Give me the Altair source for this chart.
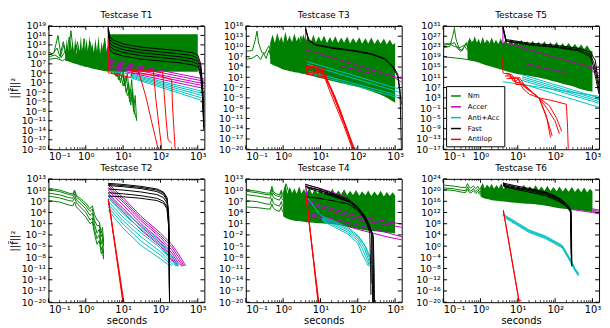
import altair as alt
import pandas as pd

GROUPS = ["Nm", "Accer", "Anti+Acc", "Fast", "Antilop"]
COLORS = ["#008000", "#bf00bf", "#00bfbf", "#000000", "#ff0000"]

X_MAJOR_EXP = [-1, 0, 1, 2, 3]
X_MAJOR = [0.1, 1, 10, 100, 1000]
X_MINOR_MULT = [2, 3, 4, 5, 6, 7, 8, 9]
X_DOMAIN = [0.1, 1500]

PW, PH = 158, 125

# shared x grids of the dense "Nm" regions
GRID_A = [0.45, 0.52, 0.6, 0.7, 0.8, 0.9, 1, 1.15, 1.3, 1.5, 1.7, 2, 2.3, 2.6, 3, 3.5, 4, 4.7, 5.5, 6.5,
          7.5, 9, 10.5, 12.5, 15, 18, 21, 25, 30, 36, 43, 52, 62, 75, 90, 110, 130, 160, 190, 230,
          280, 340, 410, 500, 600, 720, 860, 1000]
GRID_B = [1, 1.15, 1.3, 1.5, 1.75, 2, 2.3, 2.7, 3.1, 3.6, 4.2, 5, 6, 7, 8.5, 10, 12, 14.5, 17.5, 21,
          25, 30, 36, 43, 52, 62, 75, 90, 110, 130, 160, 190, 230, 280, 340, 410, 500, 600, 720, 860, 1000]

# ---------------- Testcase T1 ----------------
T1_YEXP = [-20, -17, -14, -11, -8, -5, -2, 1, 4, 7, 10, 13, 16, 19]
T1_NM = [
    ([0.1, 0.13, 0.17, 0.2, 0.25, 0.3, 0.36, 0.45, 0.55, 0.7, 0.85, 1.0, 1.3, 1.6, 2, 2.5, 3, 3.6, 4.2, 5, 6, 7.5, 9, 11, 13, 15, 17, 19, 21, 23],
     [10.7, 10.2, 12, 9.5, 14, 9, 15.5, 8, 13, 7.5, 12, 7, 14, 6.5, 11, 6, 13, 5.5, 10, 4, 9, 2, 7, 0, 4, -4, 2, -8, -3, -11]),
    ([0.1, 0.14, 0.18, 0.22, 0.28, 0.33, 0.4, 0.5, 0.6, 0.75, 0.9, 1.1, 1.4, 1.8, 2.2, 2.8, 3.4, 4, 4.8, 5.8, 7, 8.5, 10, 12, 14, 16, 18, 20],
     [9.8, 10.5, 16, 9, 11, 8.5, 17.5, 7.5, 10, 7, 15, 6.5, 9, 6, 12, 5.5, 8, 5, 11, 3.5, 6, 1, 5, -2, 1, -6, -1, -9]),
    ([0.1, 0.15, 0.2, 0.26, 0.32, 0.4, 0.48, 0.6, 0.72, 0.9, 1.1, 1.35, 1.7, 2.1, 2.6, 3.2, 4, 5, 6.5, 8, 10, 12, 15, 18],
     [9.2, 9.8, 8.8, 13, 8.2, 11, 7.6, 14, 7.2, 10, 6.8, 13, 6.2, 9, 5.8, 15, 5, 7, 3, 6, 0, 3, -5, -2]),
    ([0.1, 0.16, 0.24, 0.35, 0.5, 0.65, 0.8, 1, 1.25, 1.5, 2, 2.4, 3, 3.8, 4.5, 6, 8, 10, 13, 16, 19, 22],
     [8.4, 8.8, 8, 9.5, 7.2, 11, 6.8, 8.5, 6, 10, 5.5, 7.5, 5, 9, 4.5, 5, 2, 3, -3, -1, -7, -10]),
]
T1_BAND_X = [4, 1000]
T1_BAND_LO = [4.6, 4.5]
T1_BAND_HI = [16.4, 16.4]
T1_BAND2_X = [0.28, 0.31, 0.34, 0.37, 0.4, 0.44, 0.48, 0.52, 0.57, 0.62, 0.68, 0.74, 0.8, 0.88, 0.96, 1.05,
              1.15, 1.25, 1.37, 1.5, 1.65, 1.8, 2, 2.2, 2.4, 2.65, 2.9, 3.2, 3.5, 3.8, 4]
T1_BAND2_LO = [8, 7.9, 7.8, 7.6, 7.5, 7.3, 7.2, 7, 6.9, 6.8, 6.6, 6.5, 6.4, 6.2, 6.1, 6, 5.9, 5.8, 5.6, 5.5,
               5.4, 5.3, 5.2, 5.1, 5, 4.9, 4.8, 4.7, 4.7, 4.6, 4.6]
T1_BAND2_HI = [9, 15, 10, 16, 11, 14, 10.5, 15.5, 10, 13, 11, 16, 10, 14.5, 11, 15, 10.5, 16, 11, 13.5,
               10.5, 15, 11, 16, 10, 14, 11, 15.5, 10.5, 13, 11]
T1_ACCER = [
    ([4, 4, 4.2, 1500], [19, 8.5, 8.2, 2.2]),
    ([4.2, 1500], [7.5, 1.5]),
    ([4.2, 1500], [6.8, 0.7]),
    ([4.2, 1500], [6.2, 0.0]),
    ([4.2, 1500], [5.6, -0.8]),
]
T1_ANTI = [
    ([4, 16, 1500], [4.7, 3.8, -1.8]),
    ([16, 1500], [3.5, -2.5]),
    ([16, 1500], [3.2, -3.2]),
    ([16, 1500], [2.9, -4.0]),
    ([16, 1500], [2.6, -4.8]),
]
T1_FAST = [
    ([4, 4.4, 5.5, 10, 30, 100, 300, 700, 1000, 1200, 1350, 1450], [18.5, 15.5, 14.5, 13.3, 12.3, 11.7, 11.2, 10.6, 9.8, 7, 0, -13]),
    ([4, 4.4, 5.5, 10, 30, 100, 300, 700, 1000, 1200, 1350, 1470], [18.2, 14.6, 13.6, 12.4, 11.4, 10.8, 10.2, 9.6, 8.8, 6, -1, -13.5]),
    ([4, 4.4, 5.5, 10, 30, 100, 300, 700, 1000, 1200, 1350, 1430], [18.0, 13.6, 12.6, 11.5, 10.5, 9.9, 9.3, 8.6, 7.9, 5, -2, -12.5]),
    ([4, 4.4, 5.5, 10, 30, 100, 300, 700, 1000, 1200, 1350, 1480], [17.8, 12.6, 11.6, 10.6, 9.6, 9.0, 8.4, 7.7, 7.0, 4, -3, -13]),
    ([4, 4.4, 5.5, 10, 30, 100, 300, 700, 1000, 1200, 1350, 1460], [17.6, 11.4, 10.4, 9.5, 8.5, 7.9, 7.4, 6.7, 6.1, 3, -4, -14]),
]
T1_ANTILOP = [
    ([4, 4, 16, 18, 26, 40, 60, 89], [15, 4.2, 2.7, 4.7, 4.5, -3, -12, -20.5]),
    ([16, 40, 65, 75, 90, 110], [5.3, 5, 4.8, -4, -12, -20.5]),
    ([16, 60, 115, 125, 145, 160, 200], [4.9, 4.6, 4.3, -2, -12, -17, -18]),
    ([16, 100, 200, 210, 230, 250], [4.2, 3.2, 2.0, -6, -14, -20.5]),
]

# ---------------- Testcase T3 ----------------
T3_YEXP = [-20, -17, -14, -11, -8, -5, -2, 1, 4, 7, 10, 13, 16]
T3_NM = [
    ([0.1, 0.15, 0.18, 0.2, 0.22, 0.27, 0.33, 0.38, 0.42, 0.47, 0.55, 0.7, 0.9, 1.2, 1.6, 2.2, 3, 4],
     [8.6, 8.8, 12, 14.5, 11, 8.2, 8, 9.5, 10.2, 7.5, 9, 6, 11, 5, 12, 4.5, 13, 4]),
    ([0.1, 0.15, 0.2, 0.25, 0.3, 0.35, 0.42, 0.5, 0.6, 0.8, 1, 1.3, 1.7, 2.3, 3, 4],
     [6.2, 6.6, 7.5, 6.2, 8, 6.5, 9, 5.5, 8, 5, 10, 4, 9, 3.5, 11, 3]),
]
T3_BAND_LO = [5, 4.7, 4.4, 4.1, 3.8, 3.5, 3.3, 3.1, 3, 2.8, 2.7, 2.5, 2.4, 2.3, 2.1, 2, 1.9, 1.7, 1.5, 1.3,
              1.1, 0.9, 0.7, 0.5, 0.3, 0.1, -0.1, -0.3, -0.5, -0.7, -0.9, -1.1, -1.3, -1.5, -1.7, -1.9, -2.2, -2.5, -2.8, -3.1,
              -3.4, -3.7, -4.1, -4.5, -5, -5.5, -6, -6.4]
T3_BAND_HI = [11, 13.5, 11, 14, 11.5, 13, 11, 14.3, 11.5, 13.2, 11, 13.8, 11.5, 12.8, 11.2, 13.6, 11.5, 13, 11.3, 13.4,
              11.2, 12.9, 11.4, 13.2, 11, 12.8, 11.2, 13, 11, 12.6, 11.1, 12.9, 10.9, 12.5, 11, 12.7, 10.8, 12.4, 10.9, 12.6,
              10.7, 12.2, 10.8, 12.3, 10.6, 12, 10.5, 11]
T3_ACCER = [
    ([4, 4, 4.5, 20, 100, 500, 1100, 1500], [16, 8.3, 9, 6.8, 4.5, 2.1, 1.0, 0.6]),
    ([37, 290], [4.2, 1.9]),
    ([700, 1000, 1500], [1.8, 0.8, -0.4]),
]
T3_ANTI = [
    ([4.4, 1180, 1500], [5.6, -2.3, -2.8]),
    ([4.4, 1180, 1500], [4.8, -3.2, -3.6]),
    ([4.8, 525, 1180, 1500], [2.8, -3.2, -4.3, -4.6]),
    ([4.8, 1180, 1500], [2.3, -4.9, -5.3]),
]
T3_FAST = [
    ([4, 4.8, 7.2, 20, 83, 230, 525, 880, 1180, 1350, 1480], [15.5, 12, 10.6, 9.7, 8.8, 7.9, 6.5, 4.2, 1.9, -3, -20.5]),
    ([4, 4.8, 7.2, 20, 83, 230, 525, 880, 1180, 1350, 1500], [15, 11.7, 10.4, 9.5, 8.6, 7.7, 6.3, 3.9, 1.2, -3.5, -7]),
]
T3_ANTILOP = [
    ([4, 4, 4.3, 7, 7.5, 11, 12, 14, 20, 30, 50, 82], [12, 2.3, 4.2, 4.2, 3, 3, 1.5, 0.8, -3, -8, -14, -20.5]),
    ([4.3, 6, 7, 9, 10, 13, 15, 22, 35, 55, 78], [3.5, 3.5, 2.5, 2.5, 3.4, 3.4, 0.5, -3.5, -9, -15, -20.5]),
    ([4.5, 8, 9, 12, 14, 18, 28, 45, 70], [2.5, 2.5, 1.2, 1.2, 0.3, -2, -7, -13, -19]),
    ([5, 9, 10, 13, 16, 25, 40, 60, 85], [4, 4, 2, 2, -0.5, -5, -11, -16, -20.5]),
    ([4.2, 6.5, 8, 11, 13, 17, 26, 42, 75], [1.8, 1.8, 3.8, 3.8, 1, -2.5, -7.5, -13, -20.5]),
]

# ---------------- Testcase T5 ----------------
T5_YEXP = [-17, -13, -9, -5, -1, 3, 7, 11, 15, 19, 23, 27, 31]
T5_NM = [
    ([0.1, 0.15, 0.18, 0.2, 0.22, 0.27, 0.33, 0.38, 0.42, 0.5, 0.6, 0.75, 0.9, 1.2, 1.6, 2.2, 3],
     [22.5, 23, 27, 30, 26, 22, 21.5, 23.5, 24.5, 20.5, 25, 19.5, 24, 19, 25, 18.5, 24]),
    ([0.1, 0.15, 0.2, 0.25, 0.3, 0.35, 0.42, 0.5, 0.6, 0.8, 1, 1.3, 1.7, 2.3, 3],
     [23.5, 23.8, 24.5, 22, 21, 22.5, 24, 21, 23, 20, 24, 19, 23, 18.5, 22]),
    ([0.1, 0.14, 0.2, 0.28, 0.36, 0.45, 0.55, 0.7], [23.9, 24.2, 23, 22.5, 23.5, 21.5, 22.5, 20.5]),
    ([0.1, 0.3, 0.6, 1, 2, 3.5], [19, 18.3, 17.6, 17.5, 17.2, 17]),
]
T5_BAND_LO = [17.8, 17.6, 17.4, 17.2, 17, 16.8, 16.5, 16.2, 15.9, 15.6, 15.4, 15.1, 14.8, 14.6, 14.3, 14, 13.8, 13.5, 13.2, 12.9,
              12.7, 12.4, 12.2, 12, 11.8, 11.7, 11.5, 11.3, 11.1, 10.9, 10.6, 10.4, 10.1, 9.8, 9.5, 9.2, 8.9, 8.5, 8.2, 7.9,
              7.6, 7.2, 6.7, 6.4, 6.1, 5.8, 5.6, 5.4]
T5_BAND_HI = [24.5, 26.5, 24, 27, 24.5, 26, 24, 26.8, 24.3, 25.8, 24, 26.5, 24.2, 25.6, 24, 26.2, 24.1, 25.5, 23.8, 25.9,
              23.9, 25.3, 23.7, 25.6, 23.6, 25, 23.5, 25.2, 23.4, 24.8, 23.3, 25, 23.1, 24.6, 23, 24.7, 22.8, 24.3, 22.7, 24.4,
              22.5, 24, 22.3, 23.8, 22, 23.5, 21.5, 21]
T5_ACCER = [
    ([4, 4, 4.4, 20, 100, 426, 1070, 1500], [31, 23.9, 24.5, 21.8, 18.8, 16.3, 14.6, 14]),
    ([14.6, 40, 100, 210], [16.5, 15, 13.8, 12.5]),
    ([800, 1100, 1500], [15, 14, 12.5]),
    ([900, 1200, 1500], [14, 12.5, 11.5]),
]
T5_ANTI = [
    ([4, 1500], [9.3, 3.6]),
    ([13, 1500], [12, 3]),
    ([13, 1500], [11.2, 2.3]),
    ([13, 1500], [10.5, 1.6]),
    ([13, 1500], [9.8, 0.9]),
    ([13, 1500], [8.5, -0.7]),
]
T5_FAST = [
    ([4, 4.8, 20, 100, 426, 880, 1180, 1350, 1500], [31, 25.7, 24.3, 23.5, 22.3, 20.8, 17.7, 12, 7.9]),
    ([4, 4.8, 20, 100, 426, 880, 1100, 1300, 1500], [30.5, 25.3, 23.9, 23, 21.7, 19.8, 16.5, 11, 6]),
    ([4, 4.8, 20, 100, 426, 880, 1050, 1250, 1500], [30, 25, 23.6, 22.7, 21.3, 19, 15.5, 10, 4.5]),
]
T5_ANTILOP = [
    ([4, 4, 4.3, 6, 7, 10, 12, 20, 37, 60, 75], [18.9, 12.8, 12.5, 12.5, 10.5, 10.5, 8.5, 6, 3, -5, -12.4]),
    ([4.5, 6.5, 7.5, 9, 11, 15, 25, 37, 55, 83], [11.5, 11.5, 9.5, 9.5, 11, 8, 5, 3, -3, -11.8]),
    ([5, 8, 9, 13, 16, 22, 37, 60, 100, 130], [10.5, 10.5, 8.2, 8.2, 7, 5.5, 3, -1, -6, -11]),
    ([5, 7, 9, 11, 14, 20, 37, 70, 110, 150], [12, 12, 9, 9, 6.5, 4.5, 3, 0, -5, -10]),
    ([6, 10, 12, 18, 30, 37, 80, 200, 215, 225], [11, 11, 9, 7, 4, 3, 2, 0.5, -8, -17.5]),
]

# ---------------- Testcase T2 ----------------
T2_YEXP = [-20, -17, -14, -11, -8, -5, -2, 1, 4, 7, 10, 13]
T2_NM_X = [0.1, 0.2, 0.35, 0.45, 0.5, 0.56, 0.7, 1, 1.3, 1.5, 1.7, 2, 2.3, 2.6, 2.8, 3]
T2_NM = [
    (T2_NM_X, [10.5, 10, 9.2, 9, 10, 8.6, 7.8, 6.5, 5, 5.8, 3.5, 2, 1.5, -1.5, 0, -4]),
    (T2_NM_X, [10.1, 9.6, 8.8, 8.6, 9.6, 8.2, 7.3, 5.8, 4.3, 4.9, 2, 0.5, 0.5, -2.5, -1.5, -5]),
    (T2_NM_X, [9.2, 8.7, 8, 7.8, 8.9, 7.4, 6.5, 5, 3.2, 3.8, 1, -1.5, -0.5, -4.5, -3, -7]),
    (T2_NM_X, [8.4, 7.9, 7.2, 7, 8, 6.6, 5.6, 4, 2, 2.5, -0.5, -3, -2, -6, -5, -8]),
    (T2_NM_X, [7.2, 6.8, 6, 5.8, 6.8, 5.5, 4.5, 2.8, 1, 1.5, -1.5, -4.5, -3.5, -7, -6, -8.5]),
]
T2_ACCER = [
    ([4, 6, 10, 30, 100, 200, 300, 400, 470], [11.8, 10, 8, 3, -1.5, -4.5, -7, -9, -10.3]),
    ([4, 6, 10, 30, 100, 200, 300, 400, 430], [11.3, 9.4, 7.4, 2.4, -2.1, -5.2, -7.8, -9.8, -10.3]),
    ([4, 6, 10, 30, 100, 200, 300, 400], [10.7, 8.8, 6.8, 1.8, -2.7, -6, -8.7, -10.3]),
    ([4, 6, 10, 30, 100, 200, 300, 380], [10, 8.1, 6, 1, -3.4, -6.8, -9.5, -10.4]),
    ([4, 6, 10, 30, 100, 200, 300], [9.2, 7.2, 5.1, 0.2, -4.2, -7.7, -10.3]),
    ([4, 6, 10, 30, 100, 200, 290], [8.4, 6.4, 4.2, -0.7, -5, -8.6, -10.4]),
]
T2_ANTI = [
    ([4, 10, 30, 100, 230, 300], [8.8, 4.5, 0.5, -3.7, -8.3, -10]),
    ([4, 10, 30, 100, 230, 280], [7.9, 3.6, -0.4, -4.6, -9, -10.3]),
    ([4, 10, 30, 100, 230, 260], [7, 2.7, -1.4, -5.5, -9.6, -10.4]),
    ([4, 10, 30, 100, 220], [6.2, 1.8, -2.5, -6.5, -10]),
    ([4, 10, 30, 100, 200], [5.4, 0.9, -3.6, -7.4, -10.2]),
    ([4, 10, 30, 100, 180], [4.6, -0.2, -4.8, -8.4, -10.3]),
]
T2_FAST_X = [4, 10, 30, 80, 120, 150, 165, 172, 175]
T2_FAST = [
    (T2_FAST_X, [11.8, 11.5, 11, 10.3, 9.5, 8, 4, -5, -19]),
    (T2_FAST_X, [11.5, 11.2, 10.7, 10, 9.2, 7.6, 3.5, -6, -18]),
    (T2_FAST_X, [11.2, 10.9, 10.4, 9.6, 8.8, 7.2, 3, -7, -18.5]),
    (T2_FAST_X, [10.3, 10, 9.5, 8.8, 8, 6.5, 2, -8, -19]),
    (T2_FAST_X, [9.3, 9, 8.5, 7.8, 7, 5.5, 1, -9, -20]),
    (T2_FAST_X, [8.4, 8.2, 7.8, 7.2, 6.5, 5, 0.5, -10, -20.5]),
]
T2_ANTILOP = [
    ([4, 10.7], [7.6, -20.5]),
    ([4, 10.3], [7.4, -20.5]),
    ([4.1, 10], [7.2, -20.5]),
]

# ---------------- Testcase T4 ----------------
T4_YEXP = [-20, -17, -14, -11, -8, -5, -2, 1, 4, 7, 10, 13]
T4_NM_X = [0.1, 0.2, 0.35, 0.45, 0.5, 0.55, 0.65, 0.8, 0.9, 0.95, 1.05, 1.2, 1.5]
T4_NM = [
    (T4_NM_X, [10.1, 9.7, 9.2, 9.2, 11, 9.5, 9, 8.8, 10, 9, 8.6, 11.7, 8.5]),
    (T4_NM_X, [9.7, 9.3, 8.8, 8.7, 10.3, 9, 8.5, 8.3, 9.5, 8.4, 8, 9, 7.8]),
    (T4_NM_X, [8.8, 8.4, 8, 7.8, 9.3, 8, 7.6, 7.3, 8.5, 7.4, 7, 8, 6.8]),
    (T4_NM_X, [7.2, 6.9, 6.3, 6.2, 7.8, 6.5, 6, 5.7, 7, 5.8, 5.5, 6.5, 5]),
    (T4_NM_X, [5.5, 5.3, 5, 4.9, 6.3, 5.1, 4.6, 4.3, 5.6, 4.3, 4, 5, 3.5]),
]
T4_BAND_LO = [3, 2.6, 2.3, 2.1, 1.9, 1.8, 1.75, 1.7, 1.6, 1.5, 1.4, 1.35, 1.3, 1.2, 1.15, 1.1, 1.05, 1, 0.95, 0.9,
              0.8, 0.65, 0.5, 0.35, 0.15, 0, -0.15, -0.3, -0.45, -0.6, -0.75, -0.85, -0.95, -1.05, -1.1, -1.2, -1.3, -1.4, -1.45, -1.5,
              -1.6]
T4_BAND_HI = [9.5, 11.7, 9, 10.8, 9.2, 10.5, 9, 11, 9.1, 10.3, 9, 10.7, 8.9, 10.2, 9, 10.6, 8.8, 10, 8.9, 10.4,
              8.7, 9.9, 8.8, 10.2, 8.6, 9.8, 8.7, 10, 8.5, 9.7, 8.6, 9.9, 8.4, 9.6, 8.5, 9.8, 8.3, 9.5, 8.4, 9.4,
              8.5]
T4_ACCER = [
    ([4, 4.4, 10, 100, 525, 1500], [11.7, 7.2, 6, 3, 1.7, 0.9]),
    ([4, 4.6, 10, 100, 525, 1500], [11.2, 6.5, 5.3, 2.1, 0.8, 0.05]),
    ([4.8, 10, 55, 525, 1500], [3.8, 3, 1.3, -1.2, -2.5]),
    ([4.8, 10, 100, 600, 1500], [3.3, 2.5, -0.5, -2.5, -3.3]),
    ([4, 10, 30, 50], [11.5, 10.4, 8.9, 8.1]),
]
T4_ANTI = [
    ([4.5, 9, 12, 20, 55, 102, 155, 210, 235], [8, 3.8, 2.8, 2, 0, -2.2, -4.7, -7.7, -9.5]),
    ([11, 20, 55, 102, 155, 200, 225], [2.6, 1.7, -0.4, -2.5, -5, -8, -9.8]),
    ([11, 20, 55, 102, 150, 190, 215], [2.3, 1.3, -0.8, -3, -5.6, -8.4, -10]),
    ([11, 20, 55, 100, 140, 180, 205], [2, 0.9, -1.3, -3.5, -6.2, -8.8, -10.2]),
    ([12, 20, 55, 100, 130, 170, 195], [1.6, 0.5, -1.8, -4.2, -7, -9.3, -10.4]),
]
T4_FAST = [
    ([4, 9, 20, 55, 100, 155, 190, 230, 255, 262, 265], [11.5, 10.5, 9.2, 7.6, 5.5, 3, 1.3, -0.8, -2, -10, -20.5]),
    ([4, 9, 20, 55, 100, 155, 190, 230, 260, 275, 280], [11, 10.1, 8.9, 7.3, 5.3, 2.8, 1.1, -1, -2.5, -12, -20.5]),
    ([4.2, 9, 20, 55, 100, 150, 180, 210, 220, 225], [10.8, 10, 8.7, 7, 5, 2.5, 0.7, -1.5, -10, -18]),
    ([4, 9, 20, 55, 100, 150, 190, 220, 240, 245, 250], [8.2, 7.8, 7.2, 6.3, 4.6, 2.3, 0.5, -1, -2, -12, -20.5]),
    ([4.5, 9, 20, 60, 110, 160, 200, 235, 240], [10.5, 9.6, 8.4, 6.8, 4.8, 2.4, 0.5, -1.5, -15]),
]
T4_ANTILOP = [
    ([4.1, 8.9], [8.4, -20.5]),
    ([4.1, 9.2], [8.1, -20.5]),
    ([4.2, 8.7], [8.6, -20.5]),
]

# ---------------- Testcase T6 ----------------
T6_YEXP = [-20, -16, -12, -8, -4, 0, 4, 8, 12, 16, 20, 24]
T6_NM_X = [0.1, 0.2, 0.3, 0.4, 0.45, 0.5, 0.55, 0.65, 0.75, 0.85, 0.95, 1.1, 1.3]
T6_NM = [
    (T6_NM_X, [21.8, 21.4, 21, 20.9, 22.3, 21, 20.7, 21.5, 20.5, 21.3, 20.2, 21.2, 20]),
    (T6_NM_X, [20.8, 20.4, 20, 19.8, 21.2, 20, 19.6, 20.5, 19.5, 20.3, 19.2, 20.2, 19]),
    (T6_NM_X, [20.2, 19.8, 19.3, 19.1, 20.4, 19.2, 18.9, 19.8, 18.8, 19.5, 18.5, 19.5, 18.5]),
]
T6_BAND_LO = [17.8, 17.3, 17, 16.8, 16.6, 16.4, 16.3, 16.2, 16.1, 16, 15.9, 15.8, 15.7, 15.6, 15.5, 15.4, 15.3, 15.2, 15.15, 15.1,
              15, 14.9, 14.8, 14.7, 14.5, 14.3, 14.1, 13.9, 13.7, 13.5, 13.4, 13.3, 13.2, 13.1, 13, 12.9, 12.8, 12.7, 12.5, 12.4,
              12.3]
T6_BAND_HI = [21, 22.5, 20.6, 22, 20.8, 22.3, 20.5, 21.8, 20.6, 22.4, 20.4, 21.7, 20.5, 22, 20.3, 21.6, 20.2, 21.9, 20.1, 21.4,
              20, 21.7, 19.9, 21.3, 19.8, 21.5, 19.7, 21.1, 19.6, 21.3, 19.5, 20.9, 19.4, 21.1, 19.3, 20.7, 19.2, 20.9, 19.1, 20.5,
              19.5]
T6_ACCER_X = [4, 6, 10, 30, 100, 300, 1000, 1500]
T6_ACCER = [
    (T6_ACCER_X, [22.8, 21, 19.5, 17.5, 15.5, 14.2, 13.3, 12.9]),
    (T6_ACCER_X, [22.4, 20.5, 19, 17, 15, 13.8, 12.9, 12.4]),
    (T6_ACCER_X, [22, 20, 18.5, 16.5, 14.6, 13.4, 12.4, 11.9]),
    (T6_ACCER_X, [21.6, 19.6, 18.1, 16.1, 14.2, 13, 12, 11.5]),
]
T6_ANTI_X = [4, 4.8, 9, 20, 55, 155, 230, 347, 426]
T6_ANTI = [
    (T6_ANTI_X, [11.8, 10.8, 8.6, 5.8, 3.6, 0.3, -3.6, -8.1, -9.8]),
    (T6_ANTI_X, [11.5, 10.5, 8.3, 5.5, 3.3, 0, -3.9, -8.4, -10.1]),
    (T6_ANTI_X, [11.2, 10.2, 8, 5.2, 3, -0.3, -4.2, -8.7, -10.4]),
    (T6_ANTI_X, [11, 9.9, 7.7, 4.9, 2.7, -0.6, -4.5, -9, -10.6]),
]
T6_FAST = [
    ([4, 9, 20, 55, 125, 188, 230, 265, 275, 280], [22.5, 21.5, 20.6, 19.3, 17.2, 15.5, 14.2, 12.8, 3, -7.2]),
    ([4, 9, 20, 55, 125, 188, 230, 265, 272, 278], [22.1, 21.1, 20.2, 18.9, 16.8, 15.1, 13.9, 12.5, 2, -6]),
    ([4, 9, 20, 55, 125, 188, 230, 262, 270, 276], [21.7, 20.7, 19.8, 18.5, 16.4, 14.7, 13.5, 12.2, 0, -7]),
    ([4.2, 9, 20, 55, 125, 188, 230, 260, 268, 272], [21.3, 20.2, 19.3, 18, 16, 14.4, 13.2, 12, 1, -5]),
    ([4.5, 10, 30, 80, 150, 200, 240, 262, 270], [21, 20.5, 20, 18.5, 16.5, 14.5, 13, 12.2, -3]),
]
T6_ANTILOP = [
    ([4.1, 10.8, 12.5], [12.9, -19.4, -19.5]),
    ([4.1, 11], [12.5, -20.5]),
]

SUP = str.maketrans("0123456789-", "⁰¹²³⁴⁵⁶⁷⁸⁹⁻")


def label_expr(exps):
    expr = "''"
    for e in reversed(exps):
        expr = "round(log(datum.value)/LN10)==%d ? '10%s' : (%s)" % (e, str(e).translate(SUP), expr)
    return expr


COLOR_SCALE = alt.Scale(domain=GROUPS, range=COLORS)
LEGEND = alt.Legend(title=None, orient="bottom-left", offset=3, symbolType="stroke",
                    symbolSize=100, symbolStrokeWidth=1.5, labelFontSize=7,
                    labelFont="DejaVu Sans", labelColor="black", fillColor="white",
                    strokeColor="black", padding=4, rowPadding=2, labelOffset=6,
                    cornerRadius=0)


def lines_df(lines, grp):
    rows = []
    for i, (xs, es) in enumerate(lines):
        for k, (x, e) in enumerate(zip(xs, es)):
            rows.append({"x": x, "y": 10.0 ** e, "grp": grp, "sid": "%s-%d" % (grp, i), "o": k})
    return pd.DataFrame(rows)


def make_panel(title, ylo, yhi, yexps, bands, lines, order, ytitle, xtitle, legend):
    xsc = alt.Scale(type="log", domain=X_DOMAIN, nice=False)
    ysc = alt.Scale(type="log", domain=[10.0 ** ylo, 10.0 ** yhi], nice=False)
    xax = alt.Axis(values=X_MAJOR, labelExpr=label_expr(X_MAJOR_EXP), title=xtitle,
                   labelOverlap=False, labelPadding=2, titlePadding=2)
    yax = alt.Axis(values=[10.0 ** e for e in yexps], labelExpr=label_expr(yexps),
                   title=ytitle, labelOverlap=False, labelPadding=3, titlePadding=2,
                   labelFontSize=9.5)
    X = lambda f: alt.X(f, scale=xsc, axis=xax)
    Y = lambda f: alt.Y(f, scale=ysc, axis=yax)
    leg = LEGEND if legend else None
    layers = []
    for g in order:
        if g == "band":
            for bx, blo, bhi in bands:
                bdf = pd.DataFrame({"x": bx, "lo": [10.0 ** v for v in blo], "hi": [10.0 ** v for v in bhi]})
                layers.append(alt.Chart(bdf).mark_area(color="#008000", clip=True, opacity=1).encode(
                    x=X("x:Q"), y=Y("lo:Q"), y2="hi:Q"))
        else:
            df = lines_df(lines[g], g)
            layers.append(alt.Chart(df).mark_line(strokeWidth=1, clip=True).encode(
                x=X("x:Q"), y=Y("y:Q"),
                color=alt.Color("grp:N", scale=COLOR_SCALE, legend=leg),
                detail="sid:N", order="o:Q"))
    minor = [b * m for b in X_MAJOR[:-1] for m in X_MINOR_MULT]
    xmaj = pd.DataFrame({"x": X_MAJOR})
    xmin = pd.DataFrame({"x": minor})
    ytk = pd.DataFrame({"y": [10.0 ** e for e in yexps]})
    layers += [
        alt.Chart(xmaj).mark_rule(color="black", strokeWidth=1).encode(x=X("x:Q"), y=alt.value(PH), y2=alt.value(PH - 4)),
        alt.Chart(xmaj).mark_rule(color="black", strokeWidth=1).encode(x=X("x:Q"), y=alt.value(0), y2=alt.value(4)),
        alt.Chart(xmin).mark_rule(color="black", strokeWidth=0.8).encode(x=X("x:Q"), y=alt.value(PH), y2=alt.value(PH - 2)),
        alt.Chart(xmin).mark_rule(color="black", strokeWidth=0.8).encode(x=X("x:Q"), y=alt.value(0), y2=alt.value(2)),
        alt.Chart(ytk).mark_rule(color="black", strokeWidth=1).encode(y=Y("y:Q"), x=alt.value(0), x2=alt.value(4)),
        alt.Chart(ytk).mark_rule(color="black", strokeWidth=1).encode(y=Y("y:Q"), x=alt.value(PW), x2=alt.value(PW - 4)),
    ]
    return alt.layer(*layers).properties(
        width=PW, height=PH,
        title=alt.TitleParams(title, fontSize=9, fontWeight="normal", font="DejaVu Sans",
                              offset=1, anchor="middle", color="black"))


STD = ["band", "Nm", "Accer", "Anti+Acc", "Fast", "Antilop"]
YT = "||f̃||²"

p1 = make_panel("Testcase T1", -20, 19, T1_YEXP,
                [(T1_BAND_X, T1_BAND_LO, T1_BAND_HI), (T1_BAND2_X, T1_BAND2_LO, T1_BAND2_HI)],
                {"Nm": T1_NM, "Accer": T1_ACCER, "Anti+Acc": T1_ANTI, "Fast": T1_FAST, "Antilop": T1_ANTILOP},
                STD, YT, None, False)
p3 = make_panel("Testcase T3", -20, 16, T3_YEXP, [(GRID_A, T3_BAND_LO, T3_BAND_HI)],
                {"Nm": T3_NM, "Accer": T3_ACCER, "Anti+Acc": T3_ANTI, "Fast": T3_FAST, "Antilop": T3_ANTILOP},
                STD, None, None, False)
p5 = make_panel("Testcase T5", -17, 31, T5_YEXP, [(GRID_A, T5_BAND_LO, T5_BAND_HI)],
                {"Nm": T5_NM, "Accer": T5_ACCER, "Anti+Acc": T5_ANTI, "Fast": T5_FAST, "Antilop": T5_ANTILOP},
                STD, None, None, True)
p2 = make_panel("Testcase T2", -20, 13, T2_YEXP, [],
                {"Nm": T2_NM, "Accer": T2_ACCER, "Anti+Acc": T2_ANTI, "Fast": T2_FAST, "Antilop": T2_ANTILOP},
                ["Nm", "Accer", "Anti+Acc", "Fast", "Antilop"], YT, "seconds", False)
p4 = make_panel("Testcase T4", -20, 13, T4_YEXP, [(GRID_B, T4_BAND_LO, T4_BAND_HI)],
                {"Nm": T4_NM, "Accer": T4_ACCER, "Anti+Acc": T4_ANTI, "Fast": T4_FAST, "Antilop": T4_ANTILOP},
                STD, None, "seconds", False)
p6 = make_panel("Testcase T6", -20, 24, T6_YEXP, [(GRID_B, T6_BAND_LO, T6_BAND_HI)],
                {"Nm": T6_NM, "Accer": T6_ACCER, "Anti+Acc": T6_ANTI, "Fast": T6_FAST, "Antilop": T6_ANTILOP},
                ["Accer", "band", "Nm", "Anti+Acc", "Fast", "Antilop"], None, "seconds", False)

chart = (
    alt.concat(p1, p3, p5, p2, p4, p6, columns=3, spacing={"row": 30, "column": 42}, bounds="flush")
    .resolve_scale(color="independent")
    .resolve_legend(color="independent")
    .properties(padding=0)
    .configure(font="DejaVu Sans")
    .configure_view(stroke="black", strokeWidth=1)
    .configure_axis(domain=False, ticks=False, grid=False, labelColor="black",
                    labelFont="DejaVu Sans", labelFontSize=10, titleFont="DejaVu Sans",
                    titleFontSize=10, titleFontWeight="normal", titleColor="black")
)

chart.save("out.html", embed_options={"renderer": "svg", "actions": False})
